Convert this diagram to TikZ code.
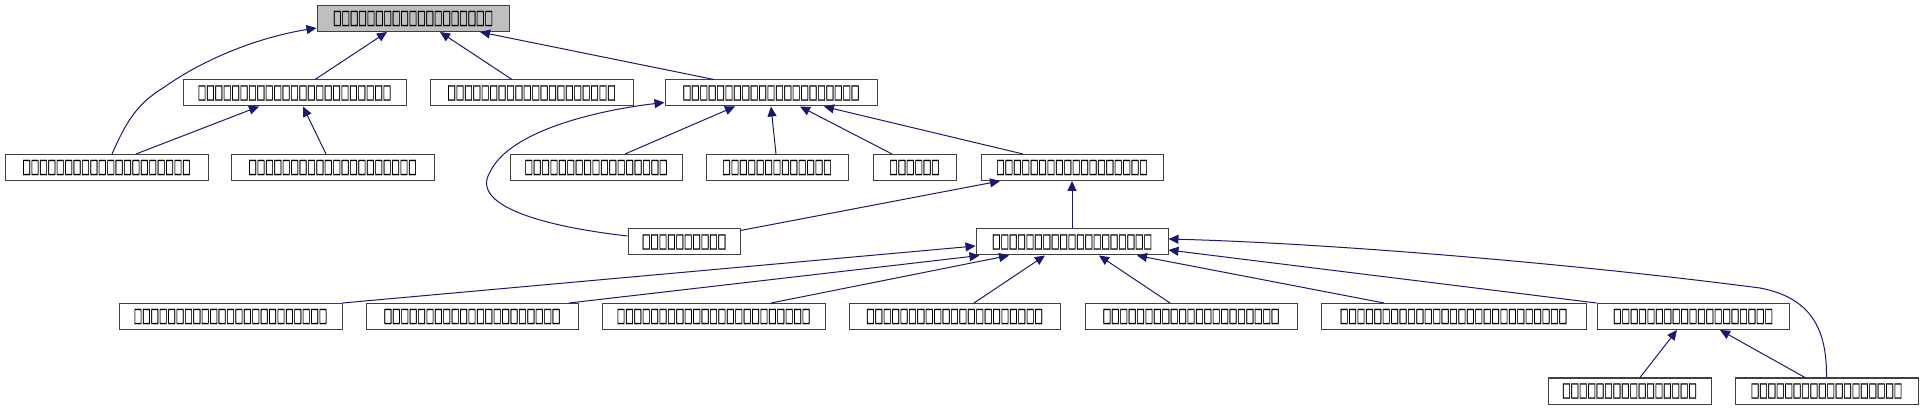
\documentclass[tikz,border=0pt]{standalone}
\usepackage{fontspec}
\newfontfamily\tofu[FakeStretch=0.445,FakeBold=0.7]{DejaVu Sans}
\usetikzlibrary{arrows.meta}
\usetikzlibrary{calc}
\definecolor{edgeblue}{HTML}{191970}
\definecolor{boxgray}{HTML}{404040}
\definecolor{basefill}{HTML}{BFBFBF}
\tikzset{
  cls/.style={draw=boxgray,fill=white,line width=0.5pt,minimum height=13pt,inner sep=0pt,font=\tofu\fontsize{10}{10}\selectfont},
  base/.style={cls,fill=basefill},
  inh/.style={draw=edgeblue,line width=0.5pt,-{Triangle[length=5pt,width=4.5pt]}},
}

\begin{document}
\begin{tikzpicture}[x=0.5pt,y=-0.5pt]
\useasboundingbox (0,0) rectangle (1923,411);

% row 1
\node[base,minimum width=96pt] (top) at (413,18.5) {□□□□□□□□□□□□□□□□□□□};

% row 2
\node[cls,minimum width=111.5pt] (a) at (294.5,93) {□□□□□□□□□□□□□□□□□□□□□□□};
\node[cls,minimum width=101.5pt] (b) at (531.5,93) {□□□□□□□□□□□□□□□□□□□□};
\node[cls,minimum width=106pt] (c) at (771,93) {□□□□□□□□□□□□□□□□□□□□□};

% row 3
\node[cls,minimum width=101.5pt] (d) at (106.5,167.5) {□□□□□□□□□□□□□□□□□□□□};
\node[cls,minimum width=101.5pt] (e) at (332.5,167.5) {□□□□□□□□□□□□□□□□□□□□};
\node[cls,minimum width=86pt] (f) at (596,167.5) {□□□□□□□□□□□□□□□□□};
\node[cls,minimum width=71pt] (g) at (777,167.5) {□□□□□□□□□□□□□};
\node[cls,minimum width=41.5pt] (h) at (914.5,167.5) {□□□□□□};
\node[cls,minimum width=91pt] (i) at (1072,167.5) {□□□□□□□□□□□□□□□□□□};

% row 4
\node[cls,minimum width=56pt] (j) at (684,242) {□□□□□□□□□□};
\node[cls,minimum width=96pt] (k) at (1072,242) {□□□□□□□□□□□□□□□□□□□};

% row 5
\node[cls,minimum width=111.5pt] (l) at (230.5,316.5) {□□□□□□□□□□□□□□□□□□□□□□□};
\node[cls,minimum width=106pt] (m) at (472,316.5) {□□□□□□□□□□□□□□□□□□□□□};
\node[cls,minimum width=111.5pt] (n) at (713.5,316.5) {□□□□□□□□□□□□□□□□□□□□□□□};
\node[cls,minimum width=105.5pt] (o) at (954.5,316.5) {□□□□□□□□□□□□□□□□□□□□□};
\node[cls,minimum width=106pt] (p) at (1191,316.5) {□□□□□□□□□□□□□□□□□□□□□};
\node[cls,minimum width=132.5pt] (q) at (1453.5,316.5) {□□□□□□□□□□□□□□□□□□□□□□□□□□□};
\node[cls,minimum width=96pt] (r) at (1693,316.5) {□□□□□□□□□□□□□□□□□□□};

% row 6
\node[cls,minimum width=81.5pt] (s) at (1629.5,391) {□□□□□□□□□□□□□□□□};
\node[cls,minimum width=91.5pt] (t) at (1826.5,391) {□□□□□□□□□□□□□□□□□□};

% edges into top
\draw[inh] ($(a.north)+(20.5,0)$) -- ($(top.south)+(-26,0)$);
\draw[inh] ($(b.north)+(-19.5,0)$) -- ($(top.south)+(27,0)$);
\draw[inh] ($(c.north)+(-57,0)$) -- ($(top.south)+(67,0)$);
\draw[inh] ($(d.north)+(5.5,0)$) .. controls (125,125) and (135,105) .. (163,88)
  .. controls (205,58) and (260,37) .. ($(top.west)+(0,9.5)$);

% edges into a
\draw[inh] ($(d.north)+(29.5,0)$) -- ($(a.south)+(-35.5,0)$);
\draw[inh] ($(e.north)+(-6.5,0)$) -- ($(a.south)+(8.5,0)$);

% edges into c
\draw[inh] ($(f.north)+(29,0)$) -- ($(c.south)+(-36,0)$);
\draw[inh] ($(g.north)+(-1,0)$) -- (c.south);
\draw[inh] ($(h.north)+(-22.5,0)$) -- ($(c.south)+(29,0)$);
\draw[inh] ($(i.north)+(-49,0)$) -- ($(c.south)+(53,0)$);
\draw[inh] ($(j.west)+(0,-6)$) .. controls (540,226) and (470,205) .. (490,172)
  .. controls (510,130) and (600,110) .. ($(c.south west)+(0,-4)$);

% edges into i
\draw[inh] ($(j.north east)+(0,2)$) -- ($(i.south)+(-72,0)$);
\draw[inh] (k.north) -- (i.south);

% edges into k
\draw[inh] (l.north east) -- ($(k.west)+(0,4)$);
\draw[inh] ($(m.north)+(97,0)$) -- ($(k.south west)+(4,0)$);
\draw[inh] ($(n.north)+(57.5,0)$) -- ($(k.south)+(-63,0)$);
\draw[inh] ($(o.north)+(19.5,0)$) -- ($(k.south)+(-27,0)$);
\draw[inh] ($(p.north)+(-21,0)$) -- ($(k.south)+(27,0)$);
\draw[inh] ($(q.north)+(-69.5,0)$) -- ($(k.south)+(65,0)$);
\draw[inh] (r.north west) -- ($(k.east)+(0,8)$);
\draw[inh] (t.north) .. controls (1827,330) and (1812,298) .. (1760,288)
  .. controls (1560,262) and (1320,243) .. ($(k.east)+(0,-3)$);

% edges into r
\draw[inh] ($(s.north)+(10.5,0)$) -- ($(r.south)+(-16,0)$);
\draw[inh] ($(t.north)+(-21.5,0)$) -- ($(r.south)+(27,0)$);
\end{tikzpicture}
\end{document}
